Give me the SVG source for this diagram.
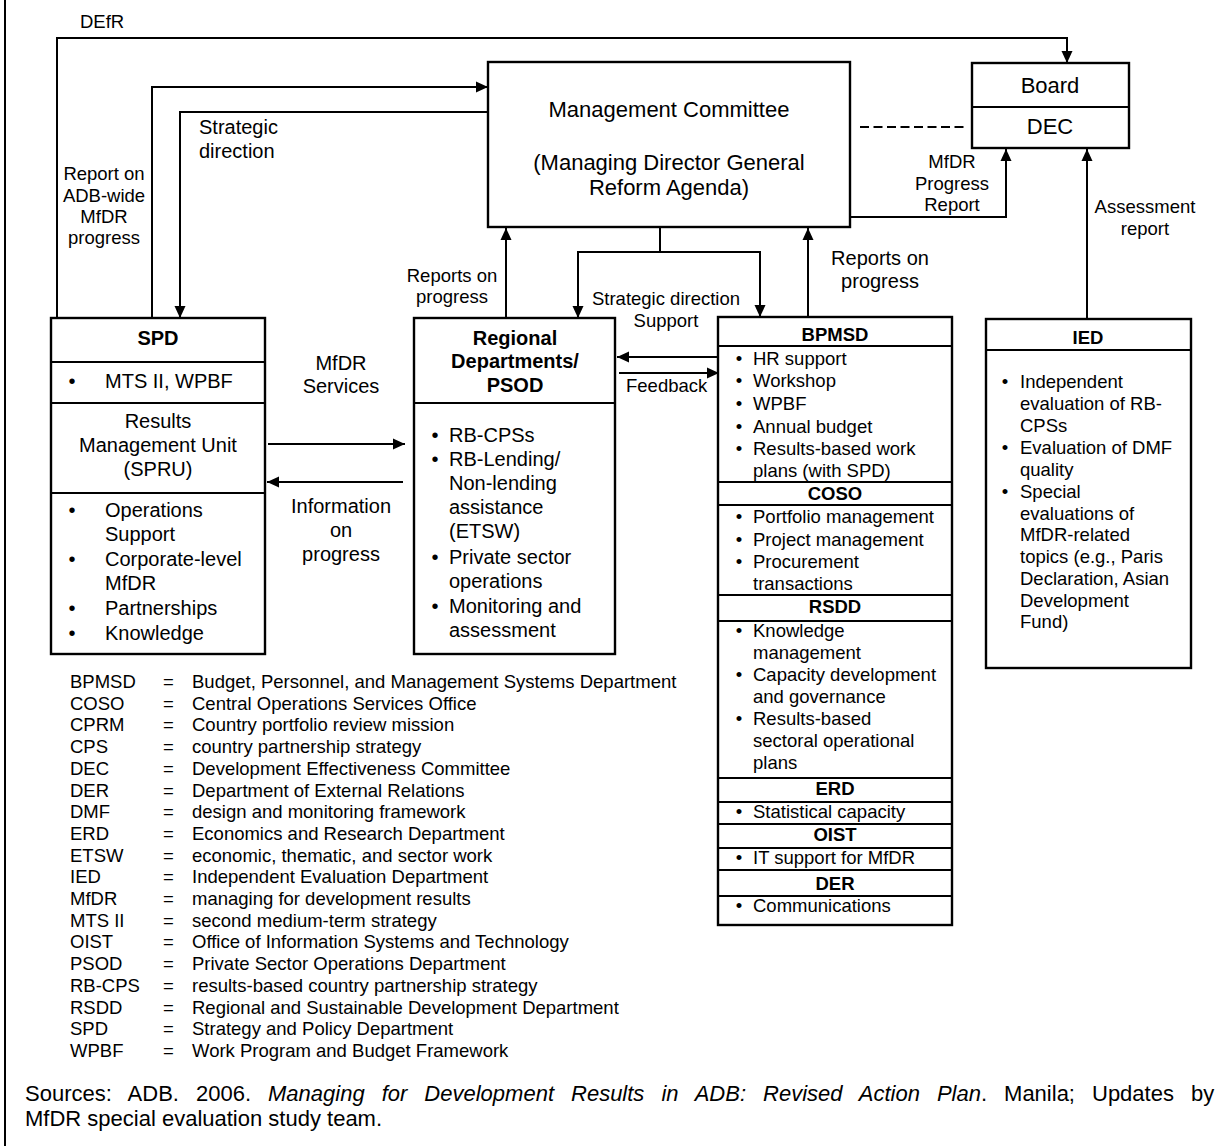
<svg xmlns="http://www.w3.org/2000/svg" width="1225" height="1146" viewBox="0 0 1225 1146">
<style>
text{font-family:"Liberation Sans",Arial,sans-serif;fill:#000}
.s18{font-size:18.5px}
.s20{font-size:20px}
.s22{font-size:22px}
.b{font-weight:bold}
.c{text-anchor:middle}
.box{fill:#fff;stroke:#000;stroke-width:2.4}
.dv{stroke:#000;stroke-width:2}
.conn{fill:none;stroke:#000;stroke-width:2}
.arr{marker-end:url(#ah)}
.dash{stroke-dasharray:9 4.5}
</style>
<defs>
<marker id="ah" viewBox="0 0 12 12" refX="12" refY="6" markerWidth="12" markerHeight="12" markerUnits="userSpaceOnUse" orient="auto"><path d="M0,0.5 L12,6 L0,11.5 Z" fill="#000"/></marker>
</defs>
<rect width="1225" height="1146" fill="#fff"/>
<line x1="5" y1="0" x2="5" y2="1146" class="dv"/>

<g id="connectors">
<path class="conn arr" d="M57,318 V38 H1067 V63"/>
<path class="conn arr" d="M152,318 V87 H488"/>
<path class="conn arr" d="M488,112 H180 V318"/>
<path class="conn arr" d="M506,318 V228"/>
<path class="conn arr" d="M808,317 V228"/>
<path class="conn arr" d="M660,227 V252 H578 V318"/>
<path class="conn arr" d="M660,252 H760 V317"/>
<path class="conn arr" d="M850,217 H1006 V149"/>
<path class="conn arr" d="M1087,319 V149"/>
<path class="conn arr" d="M268,444 H405"/>
<path class="conn arr" d="M403,482 H267"/>
<path class="conn arr" d="M718,357 H617"/>
<path class="conn arr" d="M619,373 H719"/>
<path class="conn dash" d="M860,127 H968"/>
</g>

<g id="connector-labels">
<text class="s18" x="80" y="28">DEfR</text>
<text class="s20" x="199" y="134">Strategic</text>
<text class="s20" x="199" y="158">direction</text>
<text class="s18 c" x="104" y="180">Report on</text>
<text class="s18 c" x="104" y="202">ADB-wide</text>
<text class="s18 c" x="104" y="223">MfDR</text>
<text class="s18 c" x="104" y="244">progress</text>
<text class="s18 c" x="452" y="282">Reports on</text>
<text class="s18 c" x="452" y="303">progress</text>
<text class="s18 c" x="666" y="305">Strategic direction</text>
<text class="s18 c" x="666" y="327">Support</text>
<text class="s20 c" x="880" y="265">Reports on</text>
<text class="s20 c" x="880" y="288">progress</text>
<text class="s18 c" x="952" y="168">MfDR</text>
<text class="s18 c" x="952" y="190">Progress</text>
<text class="s18 c" x="952" y="211">Report</text>
<text class="s18 c" x="1145" y="213">Assessment</text>
<text class="s18 c" x="1145" y="235">report</text>
<text class="s20 c" x="341" y="370">MfDR</text>
<text class="s20 c" x="341" y="393">Services</text>
<text class="s20 c" x="341" y="513">Information</text>
<text class="s20 c" x="341" y="537">on</text>
<text class="s20 c" x="341" y="561">progress</text>
<text class="s18" x="626" y="392">Feedback</text>
</g>

<g id="management-committee">
<rect class="box" x="488" y="62" width="362" height="165"/>
<text class="s22 c" x="669" y="117">Management Committee</text>
<text class="s22 c" x="669" y="170">(Managing Director General</text>
<text class="s22 c" x="669" y="195">Reform Agenda)</text>
</g>

<g id="board">
<rect class="box" x="972" y="63" width="157" height="85"/>
<line class="dv" x1="972" y1="107" x2="1129" y2="107"/>
<text class="s22 c" x="1050" y="93">Board</text>
<text class="s22 c" x="1050" y="134">DEC</text>
</g>

<g id="spd">
<rect class="box" x="51" y="318" width="214" height="336"/>
<line class="dv" x1="51" y1="362" x2="265" y2="362"/>
<line class="dv" x1="51" y1="403" x2="265" y2="403"/>
<line class="dv" x1="51" y1="493" x2="265" y2="493"/>
<text class="s20 b c" x="158" y="345">SPD</text>
<text class="s20 c" x="72" y="388">•</text>
<text class="s20" x="105" y="388">MTS II, WPBF</text>
<text class="s20 c" x="158" y="428">Results</text>
<text class="s20 c" x="158" y="452">Management Unit</text>
<text class="s20 c" x="158" y="476">(SPRU)</text>
<text class="s20 c" x="72" y="517">•</text>
<text class="s20" x="105" y="517">Operations</text>
<text class="s20" x="105" y="541">Support</text>
<text class="s20 c" x="72" y="566">•</text>
<text class="s20" x="105" y="566">Corporate-level</text>
<text class="s20" x="105" y="590">MfDR</text>
<text class="s20 c" x="72" y="615">•</text>
<text class="s20" x="105" y="615">Partnerships</text>
<text class="s20 c" x="72" y="640">•</text>
<text class="s20" x="105" y="640">Knowledge</text>
</g>

<g id="regional">
<rect class="box" x="414" y="318" width="201" height="336"/>
<line class="dv" x1="414" y1="403" x2="615" y2="403"/>
<text class="s20 b c" x="515" y="345">Regional</text>
<text class="s20 b c" x="515" y="368">Departments/</text>
<text class="s20 b c" x="515" y="392">PSOD</text>
<text class="s20 c" x="435" y="442">•</text>
<text class="s20" x="449" y="442">RB-CPSs</text>
<text class="s20 c" x="435" y="466">•</text>
<text class="s20" x="449" y="466">RB-Lending/</text>
<text class="s20" x="449" y="490">Non-lending</text>
<text class="s20" x="449" y="514">assistance</text>
<text class="s20" x="449" y="538">(ETSW)</text>
<text class="s20 c" x="435" y="564">•</text>
<text class="s20" x="449" y="564">Private sector</text>
<text class="s20" x="449" y="588">operations</text>
<text class="s20 c" x="435" y="613">•</text>
<text class="s20" x="449" y="613">Monitoring and</text>
<text class="s20" x="449" y="637">assessment</text>
</g>

<g id="bpmsd">
<rect class="box" x="718" y="317" width="234" height="608"/>
<line class="dv" x1="718" y1="346" x2="952" y2="346"/>
<line class="dv" x1="718" y1="482" x2="952" y2="482"/>
<line class="dv" x1="718" y1="505" x2="952" y2="505"/>
<line class="dv" x1="718" y1="595" x2="952" y2="595"/>
<line class="dv" x1="718" y1="621" x2="952" y2="621"/>
<line class="dv" x1="718" y1="778" x2="952" y2="778"/>
<line class="dv" x1="718" y1="802" x2="952" y2="802"/>
<line class="dv" x1="718" y1="824" x2="952" y2="824"/>
<line class="dv" x1="718" y1="848" x2="952" y2="848"/>
<line class="dv" x1="718" y1="870" x2="952" y2="870"/>
<line class="dv" x1="718" y1="896" x2="952" y2="896"/>
<text class="s18 b c" x="835" y="341">BPMSD</text>
<text class="s18 c" x="739" y="365">•</text><text class="s18" x="753" y="365">HR support</text>
<text class="s18 c" x="739" y="387">•</text><text class="s18" x="753" y="387">Workshop</text>
<text class="s18 c" x="739" y="410">•</text><text class="s18" x="753" y="410">WPBF</text>
<text class="s18 c" x="739" y="433">•</text><text class="s18" x="753" y="433">Annual budget</text>
<text class="s18 c" x="739" y="455">•</text><text class="s18" x="753" y="455">Results-based work</text>
<text class="s18" x="753" y="477">plans (with SPD)</text>
<text class="s18 b c" x="835" y="500">COSO</text>
<text class="s18 c" x="739" y="523">•</text><text class="s18" x="753" y="523">Portfolio management</text>
<text class="s18 c" x="739" y="546">•</text><text class="s18" x="753" y="546">Project management</text>
<text class="s18 c" x="739" y="568">•</text><text class="s18" x="753" y="568">Procurement</text>
<text class="s18" x="753" y="590">transactions</text>
<text class="s18 b c" x="835" y="613">RSDD</text>
<text class="s18 c" x="739" y="637">•</text><text class="s18" x="753" y="637">Knowledge</text>
<text class="s18" x="753" y="659">management</text>
<text class="s18 c" x="739" y="681">•</text><text class="s18" x="753" y="681">Capacity development</text>
<text class="s18" x="753" y="703">and governance</text>
<text class="s18 c" x="739" y="725">•</text><text class="s18" x="753" y="725">Results-based</text>
<text class="s18" x="753" y="747">sectoral operational</text>
<text class="s18" x="753" y="769">plans</text>
<text class="s18 b c" x="835" y="795">ERD</text>
<text class="s18 c" x="739" y="818">•</text><text class="s18" x="753" y="818">Statistical capacity</text>
<text class="s18 b c" x="835" y="841">OIST</text>
<text class="s18 c" x="739" y="864">•</text><text class="s18" x="753" y="864">IT support for MfDR</text>
<text class="s18 b c" x="835" y="890">DER</text>
<text class="s18 c" x="739" y="912">•</text><text class="s18" x="753" y="912">Communications</text>
</g>

<g id="ied">
<rect class="box" x="986" y="319" width="205" height="349"/>
<line class="dv" x1="986" y1="350" x2="1191" y2="350"/>
<text class="s18 b c" x="1088" y="344">IED</text>
<text class="s18 c" x="1005" y="388">•</text><text class="s18" x="1020" y="388">Independent</text>
<text class="s18" x="1020" y="410">evaluation of RB-</text>
<text class="s18" x="1020" y="432">CPSs</text>
<text class="s18 c" x="1005" y="454">•</text><text class="s18" x="1020" y="454">Evaluation of DMF</text>
<text class="s18" x="1020" y="476">quality</text>
<text class="s18 c" x="1005" y="498">•</text><text class="s18" x="1020" y="498">Special</text>
<text class="s18" x="1020" y="520">evaluations of</text>
<text class="s18" x="1020" y="541">MfDR-related</text>
<text class="s18" x="1020" y="563">topics (e.g., Paris</text>
<text class="s18" x="1020" y="585">Declaration, Asian</text>
<text class="s18" x="1020" y="607">Development</text>
<text class="s18" x="1020" y="628">Fund)</text>
</g>

<g id="legend">
<text class="s18" x="70" y="688">BPMSD</text><text class="s18" x="163" y="688">=</text><text class="s18" x="192" y="688">Budget, Personnel, and Management Systems Department</text>
<text class="s18" x="70" y="709.7">COSO</text><text class="s18" x="163" y="709.7">=</text><text class="s18" x="192" y="709.7">Central Operations Services Office</text>
<text class="s18" x="70" y="731.4">CPRM</text><text class="s18" x="163" y="731.4">=</text><text class="s18" x="192" y="731.4">Country portfolio review mission</text>
<text class="s18" x="70" y="753.1">CPS</text><text class="s18" x="163" y="753.1">=</text><text class="s18" x="192" y="753.1">country partnership strategy</text>
<text class="s18" x="70" y="774.8">DEC</text><text class="s18" x="163" y="774.8">=</text><text class="s18" x="192" y="774.8">Development Effectiveness Committee</text>
<text class="s18" x="70" y="796.5">DER</text><text class="s18" x="163" y="796.5">=</text><text class="s18" x="192" y="796.5">Department of External Relations</text>
<text class="s18" x="70" y="818.2">DMF</text><text class="s18" x="163" y="818.2">=</text><text class="s18" x="192" y="818.2">design and monitoring framework</text>
<text class="s18" x="70" y="839.9">ERD</text><text class="s18" x="163" y="839.9">=</text><text class="s18" x="192" y="839.9">Economics and Research Department</text>
<text class="s18" x="70" y="861.6">ETSW</text><text class="s18" x="163" y="861.6">=</text><text class="s18" x="192" y="861.6">economic, thematic, and sector work</text>
<text class="s18" x="70" y="883.3">IED</text><text class="s18" x="163" y="883.3">=</text><text class="s18" x="192" y="883.3">Independent Evaluation Department</text>
<text class="s18" x="70" y="905">MfDR</text><text class="s18" x="163" y="905">=</text><text class="s18" x="192" y="905">managing for development results</text>
<text class="s18" x="70" y="926.7">MTS II</text><text class="s18" x="163" y="926.7">=</text><text class="s18" x="192" y="926.7">second medium-term strategy</text>
<text class="s18" x="70" y="948.4">OIST</text><text class="s18" x="163" y="948.4">=</text><text class="s18" x="192" y="948.4">Office of Information Systems and Technology</text>
<text class="s18" x="70" y="970.1">PSOD</text><text class="s18" x="163" y="970.1">=</text><text class="s18" x="192" y="970.1">Private Sector Operations Department</text>
<text class="s18" x="70" y="991.8">RB-CPS</text><text class="s18" x="163" y="991.8">=</text><text class="s18" x="192" y="991.8">results-based country partnership strategy</text>
<text class="s18" x="70" y="1013.5">RSDD</text><text class="s18" x="163" y="1013.5">=</text><text class="s18" x="192" y="1013.5">Regional and Sustainable Development Department</text>
<text class="s18" x="70" y="1035.2">SPD</text><text class="s18" x="163" y="1035.2">=</text><text class="s18" x="192" y="1035.2">Strategy and Policy Department</text>
<text class="s18" x="70" y="1056.9">WPBF</text><text class="s18" x="163" y="1056.9">=</text><text class="s18" x="192" y="1056.9">Work Program and Budget Framework</text>
</g>

<g id="sources">
<text class="s22" x="25" y="1101" word-spacing="10.9">Sources: ADB. 2006. <tspan font-style="italic">Managing for Development Results in ADB: Revised Action Plan</tspan>. Manila; Updates by</text>
<text class="s22" x="25" y="1126">MfDR special evaluation study team.</text>
</g>
</svg>
